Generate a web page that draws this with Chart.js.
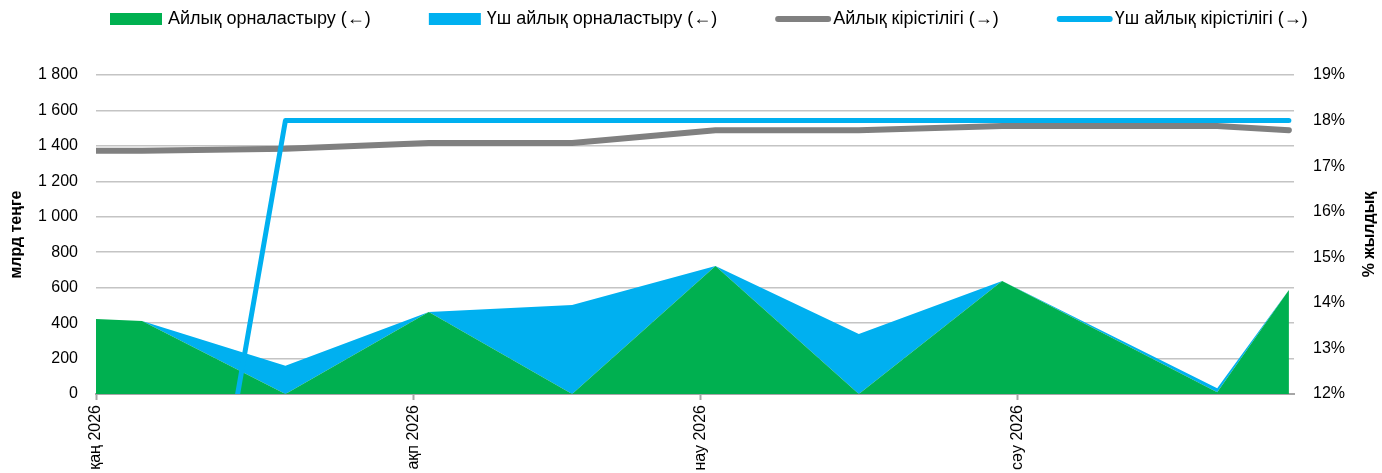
<!DOCTYPE html>
<html>
<head>
<meta charset="utf-8">
<script src="https://cdn.jsdelivr.net/npm/chart.js@4.4.1/dist/chart.umd.min.js"></script>
<style>
  html, body { margin: 0; padding: 0; background: #fff; }
</style>
</head>
<body>
<canvas id="myChart" width="1382" height="473"></canvas>
<script>
// auction dates and values
const auctionDates = ['2025-12-22', '2026-01-05', '2026-01-19', '2026-02-02', '2026-02-16',
                      '2026-03-02', '2026-03-16', '2026-03-30', '2026-04-20', '2026-04-27'];
const monthlyPlacement    = [447, 412, 0, 463, 0, 722, 0, 638, 10, 587];
const threeMonthPlacement = [0, 0, 160, 0, 502, 0, 338, 0, 22, 0];
const monthlyYield    = [17.33, 17.34, 17.38, 17.51, 17.51, 17.79, 17.79, 17.88, 17.88, 17.79];
const threeMonthYield = [0, 0, 18.0, 18.0, 18.0, 18.0, 18.0, 18.0, 18.0, 18.0];

const monthTicks  = ['2026-01-01', '2026-02-01', '2026-03-01', '2026-04-01'];
const monthLabels = ['қаң 2026', 'ақп 2026', 'нау 2026', 'сәу 2026'];
const axisStart = '2026-01-01';
const axisEnd   = '2026-04-28';

const seriesNames = ['Айлық орналастыру (←)', 'Үш айлық орналастыру (←)',
                     'Айлық кірістілігі (→)', 'Үш айлық кірістілігі (→)'];
const leftTitle  = 'млрд теңге';
const rightTitle = '% жылдық';

const GREEN = '#00B050', BLUE = '#00B0F0', GRAY = '#808080';
const FONT = '"Liberation Sans", Arial, sans-serif';

function dayOf(s){
  return (Date.parse(s + 'T00:00:00Z') - Date.parse(axisStart + 'T00:00:00Z')) / 86400000;
}
// points sit in the middle of their day
function pts(vals){
  return auctionDates.map((d, i) => ({ x: dayOf(d) + 0.5, y: vals[i] }));
}
function spaced(v){
  return String(v).replace(/\B(?=(\d{3})+(?!\d))/g, ' ');
}

// legend + side titles drawn on the canvas
const extras = {
  id: 'extras',
  afterDraw(chart){
    const ctx = chart.ctx;
    const area = chart.chartArea;
    ctx.save();
    ctx.font = '18px ' + FONT;
    ctx.textBaseline = 'middle';
    let x = 110;
    const y = 19;
    chart.data.datasets.forEach((ds) => {
      if (ds.fill) {
        ctx.fillStyle = ds.backgroundColor;
        ctx.fillRect(x, y - 6, 52, 12);
      } else {
        ctx.strokeStyle = ds.borderColor;
        ctx.lineWidth = 6;
        ctx.lineCap = 'round';
        ctx.beginPath();
        ctx.moveTo(x + 3, y);
        ctx.lineTo(x + 53, y);
        ctx.stroke();
      }
      const tx = x + 58;
      ctx.fillStyle = '#000';
      ctx.textAlign = 'left';
      ctx.fillText(ds.label, tx, y);
      x = tx + ctx.measureText(ds.label).width + 58;
    });

    ctx.font = 'bold 16px ' + FONT;
    ctx.textAlign = 'center';
    const midY = (area.top + area.bottom) / 2;
    ctx.translate(17, midY);
    ctx.rotate(-Math.PI / 2);
    ctx.fillText(leftTitle, 0, 0);
    ctx.setTransform(1, 0, 0, 1, 0, 0);
    ctx.translate(1370, midY);
    ctx.rotate(-Math.PI / 2);
    ctx.fillText(rightTitle, 0, 0);
    ctx.restore();
  }
};

Chart.defaults.font.family = FONT;
Chart.defaults.font.size = 16;
Chart.defaults.color = '#000';

function drawChart(){
  const ctx = document.getElementById('myChart');

  new Chart(ctx, {
    type: 'line',
    data: {
      datasets: [
        { label: seriesNames[0], data: pts(monthlyPlacement), yAxisID: 'y', order: 2,
          backgroundColor: GREEN, borderWidth: 0, fill: 'origin', pointRadius: 0, tension: 0 },
        { label: seriesNames[1], data: pts(threeMonthPlacement), yAxisID: 'y', order: 3,
          backgroundColor: BLUE, borderWidth: 0, fill: '-1', pointRadius: 0, tension: 0 },
        { label: seriesNames[2], data: pts(monthlyYield), yAxisID: 'y1', order: 1,
          borderColor: GRAY, borderWidth: 6, fill: false, pointRadius: 0, tension: 0,
          borderCapStyle: 'round', borderJoinStyle: 'round', clip: 0 },
        { label: seriesNames[3], data: pts(threeMonthYield), yAxisID: 'y1', order: 0,
          borderColor: BLUE, borderWidth: 5, fill: false, pointRadius: 0, tension: 0,
          borderCapStyle: 'round', borderJoinStyle: 'round', clip: 0 }
      ]
    },
    options: {
      responsive: false,
      animation: false,
      events: [],
      layout: { padding: { top: 75, left: 0, right: 0, bottom: 0 } },
      plugins: {
        legend: { display: false },
        tooltip: { enabled: false }
      },
      scales: {
        x: {
          type: 'linear',
          min: dayOf(axisStart),
          max: dayOf(axisEnd),
          afterBuildTicks(scale){
            scale.ticks = monthTicks.map(d => ({ value: dayOf(d) }));
          },
          afterFit(scale){ scale.height = 79; },
          ticks: {
            autoSkip: false,
            maxRotation: 90,
            minRotation: 90,
            padding: 5,
            callback(v){
              const i = monthTicks.findIndex(d => dayOf(d) === v);
              return i >= 0 ? monthLabels[i] : '';
            }
          },
          grid: {
            drawOnChartArea: false,
            drawTicks: true,
            tickLength: 6,
            tickColor: '#a6a6a6',
            tickWidth: 2
          },
          border: { display: true, color: '#a6a6a6', width: 2 }
        },
        y: {
          position: 'left',
          stacked: true,
          min: 0,
          max: 1800,
          afterFit(scale){ scale.width = 96; },
          ticks: {
            stepSize: 200,
            padding: 18,
            callback: v => spaced(v)
          },
          grid: { color: '#c4c4c4', lineWidth: 1.5, drawTicks: false },
          border: { display: false }
        },
        y1: {
          position: 'right',
          min: 12,
          max: 19,
          afterFit(scale){ scale.width = 88; },
          ticks: {
            stepSize: 1,
            padding: 19,
            callback: v => v + '%'
          },
          grid: { display: false, drawTicks: false },
          border: { display: false }
        }
      }
    },
    plugins: [extras]
  });
}

drawChart();
</script>
</body>
</html>
